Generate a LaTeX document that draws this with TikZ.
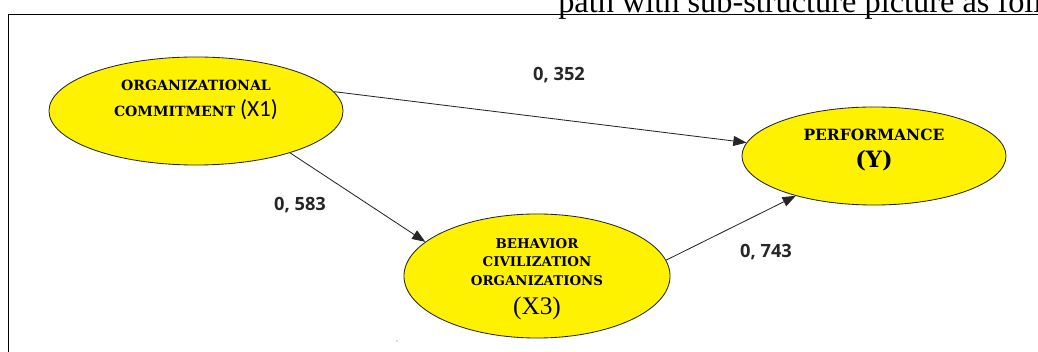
\documentclass[tikz,border=0pt]{standalone}
\usepackage{fontspec}
\setmainfont{Liberation Serif}
\newfontfamily\capsfont{DejaVu Serif}
\newfontfamily\calfont{Carlito}
\newfontfamily\numfont{Open Sans}
\usetikzlibrary{arrows.meta, positioning, shapes.geometric}

\begin{document}
\begin{tikzpicture}[x=0.025cm, y=-0.025cm,
        var/.style={ellipse, draw=black!85, fill=yellow, line width=0.6pt, inner sep=0pt},
        txt/.style={align=center, inner sep=0pt},
        coef/.style={inner sep=0pt, font=\numfont\bfseries\fontsize{13}{14}\selectfont, text=black!85},
        link/.style={-{Triangle[length=3.3mm, width=2.5mm]}, line width=0.6pt, draw=black!85}]
        \useasboundingbox (0,0) rectangle (1038,352);

        % frame and cut-off caption
        \draw[line width=1pt] (1045,14.5) -- (8.5,14.5) -- (8.5,360);
        \node[anchor=base west, inner sep=0pt, font=\fontsize{23}{23}\selectfont] (head) at (558,13) {path with sub-structure picture as follows};

        \node[var, minimum width=7.35cm, minimum height=2.7cm] (X1) at (196,111) {};
        \node[var, minimum width=6.6cm, minimum height=2.45cm] (Y) at (874,156) {};
        \node[var, minimum width=6.65cm, minimum height=3.1cm] (X3) at (537,276) {};

        \node[txt, font=\capsfont\bfseries\fontsize{10}{18}\selectfont] (X1txt) at (196,100)
            {ORGANIZATIONAL\\COMMITMENT {\calfont\mdseries\fontsize{16.5}{16}\selectfont (X1)}};
        \node[txt, font=\capsfont\bfseries\fontsize{11}{19.5}\selectfont] (Ytxt) at (874,150)
            {PERFORMANCE\\{\fontsize{16}{16}\selectfont (Y)}};
        \node[txt, font=\capsfont\bfseries\fontsize{9.5}{13}\selectfont] (X3txt) at (537,262)
            {BEHAVIOR\\CIVILIZATION\\ORGANIZATIONS};
        \node[txt, font=\fontsize{18}{18}\selectfont] (X3sub) at (537,308) {(X3)};

        \draw[link] (X1.8) -- (Y.174);
        \draw[link] (X1.-24) -- (X3.163);
        \draw[link] (X3.7) -- (Y.207);

        \node[coef] (c1) at (559,75) {0, 352};
        \node[coef] (c2) at (300,205) {0, 583};
        \node[coef] (c3) at (766,252) {0, 743};

        \fill[black!60] (397,341) circle (0.6);
    \end{tikzpicture}
\end{document}
